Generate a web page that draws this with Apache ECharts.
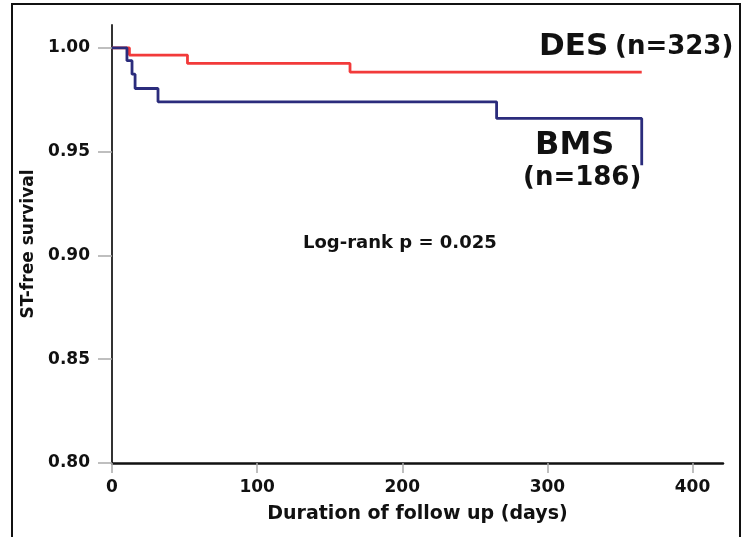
<!DOCTYPE html>
<html>
<head>
<meta charset="utf-8">
<script src="https://cdn.jsdelivr.net/npm/echarts@6/dist/echarts.min.js"></script>
<style>
html,body{margin:0;padding:0;background:#fff;}
#chart{width:741px;height:537px;}
</style>
</head>
<body>
<div id="chart"></div>
<script>
// Kaplan-Meier step data (days, survival)
const desDays = [0, 12, 52, 164, 365];
const desSurv = [1.000, 0.9965, 0.9925, 0.9883, 0.9883];
const bmsDays = [0, 10.3, 13.8, 15.9, 31.7, 265, 365, 365];
const bmsSurv = [1.000, 0.9938, 0.9873, 0.9804, 0.974, 0.966, 0.966, 0.9434];
const xTicks = [0, 100, 200, 300, 400];
const yTicks = [0.80, 0.85, 0.90, 0.95, 1.00];
const seriesNames = ['DES', 'BMS'];
const seriesN = ['(n=323)', '(n=186)'];
const pText = 'Log-rank p = 0.025';
const xTitle = 'Duration of follow up (days)';
const yTitle = 'ST-free survival';

const FONT = 'DejaVu Sans';
const chart = echarts.init(document.getElementById('chart'), null, {renderer: 'canvas'});
const pair = (xs, ys) => xs.map((x, i) => [x, ys[i]]);

chart.setOption({
  animation: false,
  backgroundColor: '#fff',
  grid: {left: 112, right: 18, top: 25, bottom: 74, containLabel: false},
  xAxis: {
    type: 'value', min: 0, max: 421,
    name: xTitle, nameLocation: 'middle', nameGap: 42,
    nameTextStyle: {fontFamily: FONT, fontWeight: 'bold', fontSize: 19, color: '#111'},
    splitLine: {show: false},
    axisLine: {show: true, lineStyle: {color: '#111', width: 2.5}},
    axisTick: {show: true, length: 10, lineStyle: {color: '#aaa', width: 1.5}, customValues: xTicks},
    axisLabel: {fontFamily: FONT, fontWeight: 'bold', fontSize: 17, color: '#111', margin: 16, customValues: xTicks}
  },
  yAxis: {
    type: 'value', min: 0.8, max: 1.011,
    name: yTitle, nameLocation: 'middle', nameGap: 72,
    nameTextStyle: {fontFamily: FONT, fontWeight: 'bold', fontSize: 17, color: '#111'},
    splitLine: {show: false},
    axisLine: {show: true, onZero: false, lineStyle: {color: '#333', width: 2}},
    axisTick: {show: true, length: 14, lineStyle: {color: '#aaa', width: 1.5}, customValues: yTicks},
    axisLabel: {fontFamily: FONT, fontWeight: 'bold', fontSize: 17, color: '#111', margin: 22,
      customValues: yTicks, formatter: v => v.toFixed(2)}
  },
  series: [
    {name: seriesNames[0], type: 'line', step: 'end', showSymbol: false, symbol: 'none',
     data: pair(desDays, desSurv), lineStyle: {color: '#f23a3a', width: 2.8}, z: 2},
    {name: seriesNames[1], type: 'line', step: 'end', showSymbol: false, symbol: 'none',
     data: pair(bmsDays, bmsSurv), lineStyle: {color: '#2b2c7c', width: 2.8}, z: 3}
  ],
  graphic: [
    {type: 'rect', shape: {x: 12, y: 4, width: 728, height: 560}, style: {fill: 'none', stroke: '#111', lineWidth: 2}, silent: true},
    {type: 'text', x: 539, y: 47, style: {text: seriesNames[0], font: 'bold 31px "DejaVu Sans"', fill: '#111', textVerticalAlign: 'middle'}},
    {type: 'text', x: 615, y: 47.5, style: {text: seriesN[0], font: 'bold 26px "DejaVu Sans"', fill: '#111', textVerticalAlign: 'middle'}},
    {type: 'text', x: 535, y: 146, style: {text: seriesNames[1], font: 'bold 32px "DejaVu Sans"', fill: '#111', textVerticalAlign: 'middle'}},
    {type: 'text', x: 523, y: 178.5, style: {text: seriesN[1], font: 'bold 26px "DejaVu Sans"', fill: '#111', textVerticalAlign: 'middle'}},
    {type: 'text', x: 303, y: 243, style: {text: pText, font: 'bold 18px "DejaVu Sans"', fill: '#111', textVerticalAlign: 'middle'}}
  ]
});
</script>
</body>
</html>
